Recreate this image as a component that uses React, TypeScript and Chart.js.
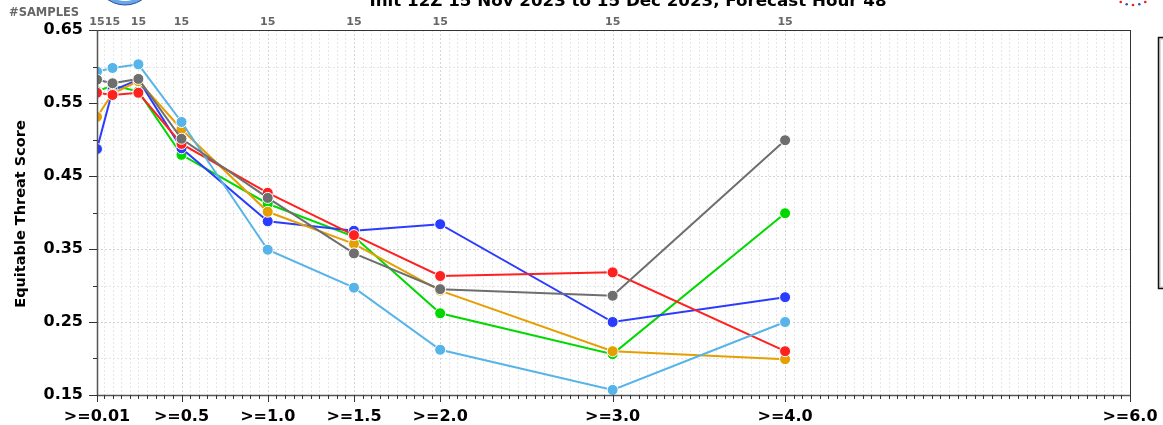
import React, { useEffect, useRef } from "react";
import { Chart, registerables } from "chart.js";

Chart.register(...registerables);

const thresholds = [0.01, 0.1, 0.25, 0.5, 1.0, 1.5, 2.0, 3.0, 4.0];
const sampleCounts = [15, 15, 15, 15, 15, 15, 15, 15, 15];
const xTickValues = [0.01, 0.5, 1.0, 1.5, 2.0, 3.0, 4.0, 6.0];
const xTickLabels = [">=0.01", ">=0.5", ">=1.0", ">=1.5", ">=2.0", ">=3.0", ">=4.0", ">=6.0"];
const yTickValues = [0.15, 0.25, 0.35, 0.45, 0.55, 0.65];
const yTickLabels = ["0.15", "0.25", "0.35", "0.45", "0.55", "0.65"];

const seriesGray = [0.582, 0.577, 0.583, 0.501, 0.420, 0.344, 0.295, 0.286, 0.499];
const seriesLightBlue = [0.593, 0.598, 0.603, 0.524, 0.349, 0.297, 0.212, 0.157, 0.250];
const seriesRed = [0.564, 0.561, 0.564, 0.494, 0.427, 0.369, 0.313, 0.318, 0.210];
const seriesOrange = [0.531, 0.563, 0.580, 0.514, 0.401, 0.357, 0.293, 0.210, 0.199];
const seriesBlue = [0.487, 0.567, 0.582, 0.488, 0.388, 0.375, 0.384, 0.250, 0.284];
const seriesGreen = [0.566, 0.574, 0.566, 0.479, 0.412, 0.367, 0.262, 0.206, 0.399];

const titleText = "Init 12Z 15 Nov 2023 to 15 Dec 2023, Forecast Hour 48";
const yTitle = "Equitable Threat Score";
const samplesTitle = "#SAMPLES";

const FONT = '"DejaVu Sans", sans-serif';

const decorPlugin = {
  id: "decor",
  beforeDatasetsDraw(chart: any) {
    const { ctx, chartArea: a, scales } = chart;
    const xs = scales.x;
    const ys = scales.y;
    ctx.save();
    ctx.lineWidth = 1;
    ctx.setLineDash([2, 2]);
    for (let k = 1; k < 120; k++) {
      const v = k * 0.05;
      const px = Math.round(xs.getPixelForValue(v)) + 0.5;
      const major = xTickValues.some((t) => Math.abs(t - v) < 1e-6);
      ctx.strokeStyle = major ? "#d4d4d4" : "#e6e6e6";
      ctx.beginPath();
      ctx.moveTo(px, a.top);
      ctx.lineTo(px, a.bottom);
      ctx.stroke();
    }
    for (let k = 1; k < 10; k++) {
      const v = 0.15 + k * 0.05;
      const py = Math.round(ys.getPixelForValue(v)) + 0.5;
      ctx.strokeStyle = k % 2 === 0 ? "#d4d4d4" : "#e6e6e6";
      ctx.beginPath();
      ctx.moveTo(a.left, py);
      ctx.lineTo(a.right, py);
      ctx.stroke();
    }
    ctx.restore();
  },
  afterDraw(chart: any) {
    const { ctx, chartArea: a, scales } = chart;
    const xs = scales.x;
    const ys = scales.y;
    ctx.save();
    ctx.setLineDash([]);
    ctx.strokeStyle = "#333";
    ctx.lineWidth = 1;
    ctx.strokeRect(a.left + 0.5, a.top + 0.5, a.right - a.left, a.bottom - a.top);
    ctx.strokeStyle = "#555";
    ctx.lineWidth = 1.5;
    ctx.beginPath();
    ctx.moveTo(a.left + 0.5, a.top);
    ctx.lineTo(a.left + 0.5, a.bottom + 0.5);
    ctx.lineTo(a.right + 0.5, a.bottom + 0.5);
    ctx.stroke();
    ctx.lineWidth = 1;
    ctx.strokeStyle = "#333";
    for (let k = 1; k < 120; k++) {
      const v = k * 0.05;
      const px = Math.round(xs.getPixelForValue(v)) + 0.5;
      ctx.beginPath();
      ctx.moveTo(px, a.bottom);
      ctx.lineTo(px, a.bottom + 4);
      ctx.stroke();
    }
    for (const v of xTickValues) {
      const px = Math.round(xs.getPixelForValue(v)) + 0.5;
      ctx.beginPath();
      ctx.moveTo(px, a.bottom);
      ctx.lineTo(px, a.bottom + 7);
      ctx.stroke();
    }
    for (let k = 0; k <= 10; k++) {
      const v = 0.15 + k * 0.05;
      const py = Math.round(ys.getPixelForValue(v)) + 0.5;
      const len = k % 2 === 0 ? 8 : 4;
      ctx.beginPath();
      ctx.moveTo(a.left, py);
      ctx.lineTo(a.left - len, py);
      ctx.stroke();
    }
    ctx.fillStyle = "#666";
    ctx.font = `bold 11px ${FONT}`;
    ctx.textAlign = "center";
    ctx.textBaseline = "middle";
    thresholds.forEach((t, i) => {
      ctx.fillText(String(sampleCounts[i]), xs.getPixelForValue(t), 22);
    });
    ctx.textAlign = "left";
    ctx.font = `bold 11.5px ${FONT}`;
    ctx.fillText(samplesTitle, 9, 13);
    ctx.fillStyle = "#000";
    ctx.font = `bold 16.7px ${FONT}`;
    ctx.textAlign = "center";
    ctx.textBaseline = "alphabetic";
    ctx.fillText(titleText, 628, 6);
    ctx.save();
    ctx.translate(21, 214);
    ctx.rotate(-Math.PI / 2);
    ctx.font = `bold 14.5px ${FONT}`;
    ctx.textBaseline = "middle";
    ctx.fillText(yTitle, 0, 0);
    ctx.restore();
    ctx.beginPath();
    ctx.arc(125, -25, 30, 0, Math.PI * 2);
    ctx.fillStyle = "#6aa6e8";
    ctx.fill();
    ctx.strokeStyle = "#2a4f9a";
    ctx.lineWidth = 1;
    ctx.stroke();
    ctx.beginPath();
    ctx.arc(125, -25, 26, 0, Math.PI * 2);
    ctx.fillStyle = "#fff";
    ctx.fill();
    for (let k = 0; k < 9; k++) {
      const ang = Math.PI * 0.2 + (k * Math.PI * 0.6) / 8;
      const dx = 1133 + 27 * Math.cos(ang);
      const dy = -22 + 27 * Math.sin(ang);
      ctx.beginPath();
      ctx.arc(dx, dy, 1.3, 0, Math.PI * 2);
      ctx.fillStyle = k % 2 === 0 ? "#e62020" : "#3050d0";
      ctx.fill();
    }
    ctx.fillStyle = "#dcdcdc";
    ctx.fillRect(1158, 37, 10, 252);
    ctx.fillStyle = "#ffffff";
    ctx.fillRect(1161, 40, 10, 246);
    ctx.strokeStyle = "#111";
    ctx.lineWidth = 1.5;
    ctx.strokeRect(1158.5, 37.5, 20, 251);
    ctx.restore();
  },
};

function mk(label: string, data: number[], color: string, order: number) {
  return {
    label,
    data: data.map((v, i) => ({ x: thresholds[i], y: v })),
    borderColor: color,
    backgroundColor: color,
    pointBackgroundColor: color,
    pointBorderColor: "#ffffff",
    pointBorderWidth: 1,
    pointRadius: 5.5,
    borderWidth: 2,
    order,
    clip: { left: 0, right: false, top: false, bottom: false },
  };
}

export default function App() {
  const ref = useRef<HTMLCanvasElement>(null);
  useEffect(() => {
    if (!ref.current) return;
    const chart = new Chart(ref.current, {
      type: "line",
      data: {
        datasets: [
          mk("Series 1", seriesGray, "#6e6e6e", 0),
          mk("Series 2", seriesLightBlue, "#56b4e9", 1),
          mk("Series 3", seriesRed, "#ff2020", 2),
          mk("Series 4", seriesOrange, "#e69f00", 3),
          mk("Series 5", seriesBlue, "#2a3cff", 4),
          mk("Series 6", seriesGreen, "#00d800", 5),
        ] as any,
      },
      options: {
        animation: false,
        responsive: false,
        devicePixelRatio: 1,
        layout: { padding: { top: 30, right: 33, left: 0, bottom: 0 } },
        plugins: { legend: { display: false }, tooltip: { enabled: false }, title: { display: false } },
        scales: {
          x: {
            type: "linear",
            min: 0.01,
            max: 6,
            grid: { display: false, drawTicks: false },
            border: { display: false },
            afterBuildTicks: (s: any) => {
              s.ticks = xTickValues.map((v) => ({ value: v }));
            },
            afterFit: (s: any) => {
              s.height = 30;
              s.paddingLeft = 0;
              s.paddingRight = 0;
            },
            ticks: {
              autoSkip: false,
              maxRotation: 0,
              minRotation: 0,
              padding: 12,
              color: "#000",
              font: { family: FONT, size: 16, weight: "bold" },
              callback: (v: any) => {
                const i = xTickValues.findIndex((t) => Math.abs(t - v) < 1e-6);
                return i >= 0 ? xTickLabels[i] : "";
              },
            },
          },
          y: {
            type: "linear",
            min: 0.15,
            max: 0.65,
            grid: { display: false, drawTicks: false },
            border: { display: false },
            afterBuildTicks: (s: any) => {
              s.ticks = yTickValues.map((v) => ({ value: v }));
            },
            afterFit: (s: any) => {
              s.width = 97;
              s.paddingTop = 0;
              s.paddingBottom = 0;
            },
            ticks: {
              padding: 14,
              color: "#000",
              font: { family: FONT, size: 16, weight: "bold" },
              callback: (v: any) => {
                const i = yTickValues.findIndex((t) => Math.abs(t - v) < 1e-6);
                return i >= 0 ? yTickLabels[i] : "";
              },
            },
          },
        },
      } as any,
      plugins: [decorPlugin],
    });
    return () => chart.destroy();
  }, []);
  return (
    <div style={{ position: "absolute", left: 0, top: 0, width: 1163, height: 425, background: "#fff" }}>
      <canvas ref={ref} width={1163} height={425} style={{ display: "block" }} />
    </div>
  );
}
